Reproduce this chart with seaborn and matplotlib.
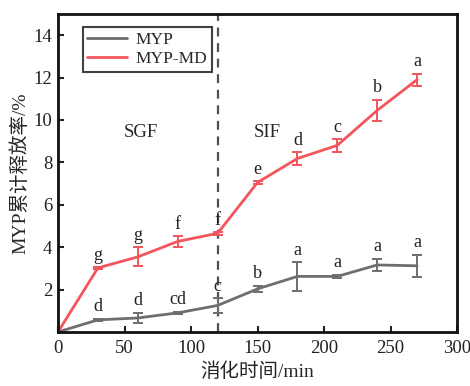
import matplotlib
matplotlib.use("Agg")
import matplotlib.pyplot as plt
import numpy as np
import pandas as pd
import seaborn as sns

# Digestion time points (min)
time = [0, 30, 60, 90, 120, 150, 180, 210, 240, 270]

# Cumulative release (%) and standard deviations
myp = [0, 0.57, 0.66, 0.90, 1.25, 2.03, 2.62, 2.62, 3.16, 3.12]
myp_err = [0, 0.05, 0.25, 0.05, 0.35, 0.15, 0.68, 0.08, 0.30, 0.52]
myp_letters = ["", "d", "d", "cd", "c", "b", "a", "a", "a", "a"]

myp_md = [0, 3.02, 3.54, 4.27, 4.65, 7.05, 8.18, 8.80, 10.45, 11.90]
myp_md_err = [0, 0.04, 0.45, 0.25, 0.06, 0.05, 0.30, 0.30, 0.50, 0.28]
myp_md_letters = ["", "g", "g", "f", "f", "e", "d", "c", "b", "a"]

series_names = ["MYP", "MYP-MD"]
colors = ["#6e6e6e", "#f2555b"]

df = pd.DataFrame({
    "time": time * 2,
    "release": myp + myp_md,
    "err": myp_err + myp_md_err,
    "letter": myp_letters + myp_md_letters,
    "sample": [series_names[0]] * len(time) + [series_names[1]] * len(time),
})

sns.set_theme(style="white")
serif = ["Liberation Serif", "Noto Sans CJK SC"]
plt.rcParams["font.family"] = serif
plt.rcParams["axes.unicode_minus"] = False

fig = plt.figure(figsize=(4.7, 3.86), dpi=100)
ax = fig.add_axes([0.1234, 0.140, 0.849, 0.824])

sns.lineplot(data=df, x="time", y="release", hue="sample",
             hue_order=series_names, palette=colors, linewidth=2.0,
             errorbar=None, ax=ax, legend=True)

for name, col in zip(series_names, colors):
    sub = df[df["sample"] == name]
    pts = sub[sub["time"] > 0]
    ax.errorbar(pts["time"], pts["release"], yerr=pts["err"], fmt="none",
                ecolor=col, elinewidth=1.4, capsize=3.5, capthick=1.4, zorder=3)
    for _, r in pts.iterrows():
        ax.annotate(r["letter"], (r["time"], r["release"] + r["err"]),
                    xytext=(0, 2.5), textcoords="offset points",
                    ha="center", va="bottom", fontsize=13, color="#222222")

# Boundary between gastric and intestinal phases
ax.axvline(120, color="#505050", linestyle=(0, (4, 3)), linewidth=1.6, zorder=1)
ax.text(62, 9.4, "SGF", ha="center", va="center", fontsize=13.5)
ax.text(157, 9.4, "SIF", ha="center", va="center", fontsize=13.5)

ax.set_xlim(0, 300)
ax.set_ylim(0, 15)
ax.set_xticks([0, 50, 100, 150, 200, 250, 300])
ax.set_yticks([2, 4, 6, 8, 10, 12, 14])
ax.tick_params(axis="both", direction="in", length=4, width=1.5,
               labelsize=13.5, colors="#222222", pad=4)
ax.tick_params(axis="x", pad=6)
ax.xaxis.set_ticks_position("bottom")
ax.yaxis.set_ticks_position("left")
for s in ax.spines.values():
    s.set_color("#111111")
    s.set_linewidth(2.0)

ax.set_xlabel("消化时间/min", fontsize=14, family=serif, labelpad=4)
ax.set_ylabel("MYP累计释放率/%", fontsize=14, family=serif, labelpad=3)

leg = ax.legend(loc="upper left", bbox_to_anchor=(0.04, 0.985), frameon=True,
                fancybox=False, edgecolor="#111111", fontsize=12.5,
                handlelength=2.3, borderpad=0.25, labelspacing=0.2,
                handletextpad=0.5, title=None)
leg.get_frame().set_linewidth(1.5)

fig.savefig("out.png", dpi=100)
